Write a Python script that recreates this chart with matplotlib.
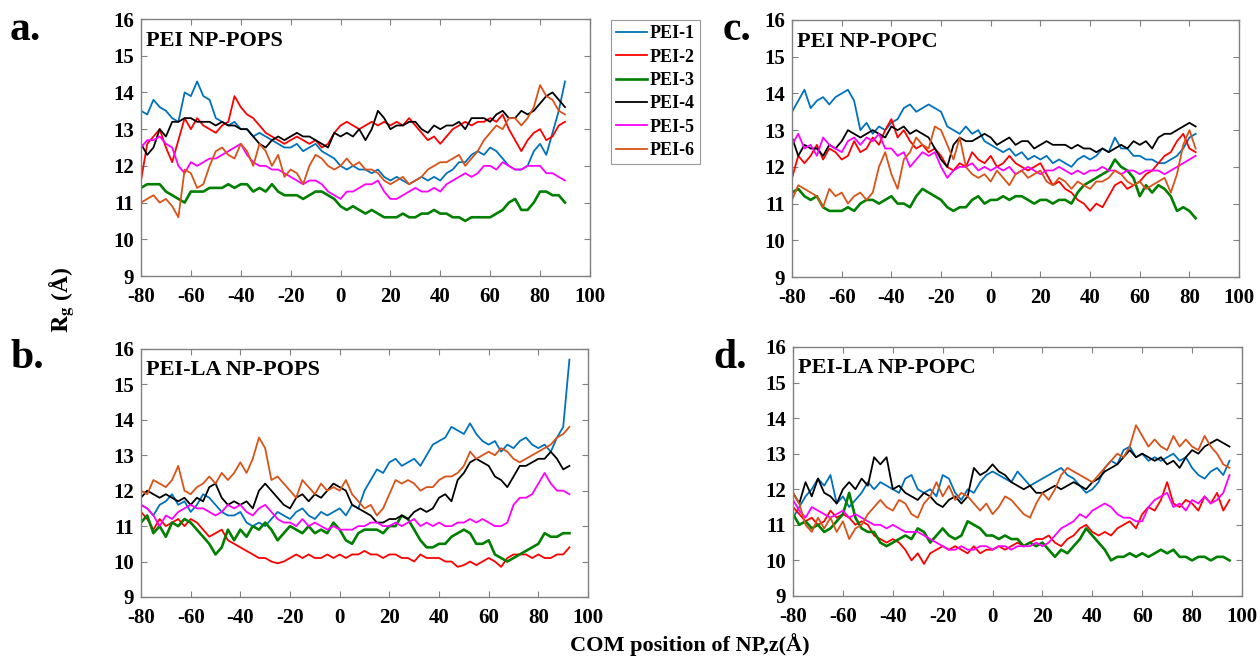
import numpy as np
import matplotlib
matplotlib.use("Agg")
import matplotlib.pyplot as plt

plt.rcParams['font.family'] = ['Liberation Serif', 'DejaVu Serif']
plt.rcParams['font.weight'] = 'bold'
plt.rcParams['mathtext.fontset'] = 'stix'
plt.rcParams['axes.unicode_minus'] = False

# COM position grids (Å) for each panel
z_a = np.arange(-80, 91, 2.5)      # -80 .. 90
z_b = np.arange(-80, 93, 2.5)      # -80 .. 92.5
z_c = np.arange(-80, 84, 2.5)      # -80 .. 82.5
z_d = np.arange(-80, 96, 2.5)      # -80 .. 95

labels = ['PEI-1', 'PEI-2', 'PEI-3', 'PEI-4', 'PEI-5', 'PEI-6']
colors = ['#0072BD', '#FF0000', '#008000', '#000000', '#FF00FF', '#D95319']

# a. PEI NP-POPS
a_pei1 = [13.5, 13.4, 13.8, 13.6, 13.5, 13.3, 13.2, 14.0, 13.9, 14.3,
          13.9, 13.8, 13.3, 13.2, 13.1, 13.2, 13.0, 13.0, 12.8, 12.9,
          12.8, 12.7, 12.6, 12.5, 12.5, 12.6, 12.4, 12.5, 12.6, 12.4,
          12.3, 12.2, 12.0, 11.9, 12.0, 11.9, 11.9, 11.8, 11.9, 11.7,
          11.6, 11.7, 11.6, 11.5, 11.6, 11.7, 11.6, 11.7, 11.6, 11.8,
          11.9, 12.1, 12.1, 12.3, 12.4, 12.3, 12.5, 12.4, 12.2, 12.0,
          11.9, 11.9, 12.0, 12.4, 12.6, 12.3, 12.9, 13.5, 14.3]
a_pei2 = [11.6, 12.6, 12.8, 13.0, 12.5, 12.1, 12.7, 13.3, 13.0, 13.3,
          13.1, 13.0, 12.9, 13.1, 13.2, 13.9, 13.6, 13.4, 13.3, 13.1,
          12.9, 12.8, 12.7, 12.6, 12.7, 12.8, 12.7, 12.6, 12.7, 12.5,
          12.6, 12.9, 13.1, 13.2, 13.1, 13.0, 13.1, 13.2, 13.1, 13.2,
          13.1, 13.2, 13.1, 13.3, 13.1, 12.9, 12.7, 12.8, 12.6, 12.8,
          13.0, 13.1, 13.2, 13.1, 13.2, 13.2, 13.3, 13.2, 13.4, 13.0,
          12.7, 12.4, 12.7, 12.9, 13.0, 12.7, 12.8, 13.1, 13.2]
a_pei3 = [11.4, 11.5, 11.5, 11.5, 11.3, 11.2, 11.1, 11.0, 11.3, 11.3,
          11.3, 11.4, 11.4, 11.4, 11.5, 11.4, 11.5, 11.5, 11.3, 11.4,
          11.3, 11.5, 11.3, 11.2, 11.2, 11.2, 11.1, 11.2, 11.3, 11.3,
          11.2, 11.1, 10.9, 10.8, 10.9, 10.8, 10.7, 10.8, 10.7, 10.6,
          10.6, 10.6, 10.7, 10.6, 10.6, 10.7, 10.7, 10.8, 10.7, 10.7,
          10.6, 10.6, 10.5, 10.6, 10.6, 10.6, 10.6, 10.7, 10.8, 11.0,
          11.1, 10.8, 10.8, 11.0, 11.3, 11.3, 11.2, 11.2, 11.0]
a_pei4 = [12.6, 12.3, 12.5, 13.0, 12.8, 13.2, 13.2, 13.3, 13.3, 13.2,
          13.2, 13.2, 13.1, 13.2, 13.1, 13.1, 13.0, 13.0, 12.8, 12.6,
          12.5, 12.7, 12.8, 12.7, 12.8, 12.9, 12.8, 12.8, 12.7, 12.6,
          12.5, 12.9, 12.8, 12.9, 12.8, 13.0, 12.7, 13.0, 13.5, 13.3,
          13.0, 13.1, 13.1, 13.2, 13.2, 13.0, 12.9, 13.1, 13.0, 13.1,
          13.1, 13.2, 13.0, 13.3, 13.3, 13.3, 13.2, 13.4, 13.5, 13.3,
          13.3, 13.5, 13.4, 13.5, 13.7, 13.9, 14.0, 13.8, 13.6]
a_pei5 = [12.5, 12.7, 12.7, 12.8, 12.6, 12.5, 12.0, 11.8, 12.1, 12.0,
          12.1, 12.2, 12.2, 12.3, 12.4, 12.5, 12.6, 12.3, 12.1, 12.0,
          12.0, 11.9, 11.9, 11.8, 11.7, 11.6, 11.5, 11.6, 11.6, 11.5,
          11.3, 11.2, 11.1, 11.3, 11.3, 11.4, 11.5, 11.5, 11.6, 11.3,
          11.1, 11.1, 11.2, 11.3, 11.4, 11.3, 11.3, 11.4, 11.3, 11.5,
          11.6, 11.7, 11.8, 11.7, 11.8, 12.0, 12.0, 11.9, 12.1, 12.0,
          11.9, 11.9, 12.0, 12.0, 12.0, 11.8, 11.8, 11.7, 11.6]
a_pei6 = [11.0, 11.1, 11.2, 11.0, 11.1, 10.9, 10.6, 11.9, 11.8, 11.4,
          11.5, 12.0, 12.4, 12.5, 12.3, 12.2, 12.6, 12.4, 12.0, 12.6,
          12.4, 12.0, 12.3, 11.7, 11.9, 11.8, 11.5, 12.0, 12.3, 12.2,
          12.0, 11.9, 12.0, 12.2, 12.0, 12.1, 11.9, 11.9, 11.8, 11.6,
          11.5, 11.6, 11.7, 11.5, 11.6, 11.7, 11.9, 12.0, 12.1, 12.1,
          12.2, 12.3, 12.0, 12.2, 12.4, 12.7, 12.9, 13.1, 13.0, 13.3,
          13.3, 13.1, 13.3, 13.6, 14.2, 13.9, 13.8, 13.5, 13.4]

# b. PEI-LA NP-POPS
b_pei1 = [11.6, 11.5, 11.3, 11.6, 11.7, 11.9, 11.6, 11.7, 11.4, 11.6,
          11.9, 11.8, 11.6, 11.4, 11.3, 11.3, 11.4, 11.1, 11.0, 11.1,
          11.0, 11.2, 11.4, 11.3, 11.2, 11.4, 11.5, 11.3, 11.2, 11.4,
          11.3, 11.4, 11.5, 11.3, 11.6, 11.5, 12.0, 12.3, 12.6, 12.5,
          12.8, 12.9, 12.7, 12.8, 12.9, 12.7, 13.0, 13.3, 13.4, 13.5,
          13.8, 13.7, 13.6, 13.9, 13.6, 13.4, 13.3, 13.4, 13.1, 13.3,
          13.2, 13.4, 13.5, 13.3, 13.2, 13.3, 13.1, 13.5, 13.8, 15.7]
b_pei2 = [11.4, 11.2, 10.9, 11.2, 11.0, 11.1, 11.2, 11.0, 11.2, 11.1,
          10.9, 10.7, 10.8, 10.9, 10.6, 10.5, 10.4, 10.3, 10.2, 10.1,
          10.1, 10.0, 9.95, 10.0, 10.1, 10.2, 10.1, 10.2, 10.1, 10.1,
          10.2, 10.1, 10.2, 10.1, 10.2, 10.2, 10.3, 10.2, 10.2, 10.1,
          10.2, 10.2, 10.1, 10.1, 10.0, 10.2, 10.1, 10.1, 10.1, 10.0,
          10.0, 9.85, 9.9, 10.0, 9.9, 10.0, 10.1, 10.0, 9.85, 10.1,
          10.2, 10.2, 10.2, 10.1, 10.2, 10.1, 10.1, 10.2, 10.2, 10.4]
b_pei3 = [11.1, 11.3, 10.8, 11.0, 10.7, 11.1, 11.0, 11.2, 11.1, 10.9,
          10.7, 10.5, 10.2, 10.4, 10.9, 10.6, 10.9, 10.7, 11.0, 10.9,
          11.1, 10.9, 10.6, 10.8, 11.0, 10.9, 10.8, 11.0, 10.8, 10.9,
          10.8, 11.1, 10.9, 10.6, 10.5, 10.8, 10.9, 10.9, 10.9, 10.8,
          11.0, 11.0, 11.3, 11.2, 10.9, 10.6, 10.4, 10.4, 10.5, 10.5,
          10.7, 10.8, 10.9, 10.8, 10.5, 10.5, 10.6, 10.2, 10.1, 10.0,
          10.1, 10.2, 10.3, 10.4, 10.5, 10.8, 10.7, 10.7, 10.8, 10.8]
b_pei4 = [11.8, 12.0, 11.9, 11.8, 11.9, 11.8, 11.7, 11.8, 11.6, 11.8,
          11.7, 12.1, 12.2, 11.8, 11.6, 11.7, 11.6, 11.7, 11.5, 12.0,
          12.2, 12.0, 11.8, 11.6, 11.5, 11.8, 11.9, 11.7, 11.9, 11.8,
          12.0, 12.2, 12.1, 12.0, 11.6, 11.5, 11.4, 11.3, 11.1, 11.1,
          11.2, 11.2, 11.3, 11.2, 11.4, 11.5, 11.4, 11.5, 11.8, 11.9,
          11.7, 12.3, 12.5, 12.8, 12.9, 12.8, 12.7, 12.4, 12.3, 12.1,
          12.4, 12.7, 12.7, 12.8, 12.9, 12.9, 13.1, 12.9, 12.6, 12.7]
b_pei5 = [11.6, 11.5, 11.3, 11.0, 11.3, 11.2, 11.4, 11.5, 11.6, 11.5,
          11.5, 11.4, 11.3, 11.4, 11.6, 11.5, 11.6, 11.4, 11.3, 11.5,
          11.6, 11.4, 11.2, 11.1, 11.1, 11.0, 11.2, 11.0, 11.1, 11.0,
          10.9, 11.0, 10.9, 10.9, 10.9, 11.0, 11.0, 11.1, 11.1, 11.0,
          11.0, 11.1, 11.0, 11.1, 11.2, 11.0, 11.1, 11.0, 11.1, 11.0,
          11.0, 11.1, 11.1, 11.2, 11.1, 11.2, 11.1, 11.0, 11.0, 11.1,
          11.6, 11.8, 11.8, 11.9, 12.2, 12.5, 12.2, 12.0, 12.0, 11.9]
b_pei6 = [12.0, 11.9, 12.3, 12.2, 12.1, 12.3, 12.7, 12.0, 11.9, 12.1,
          12.2, 12.4, 12.2, 12.5, 12.3, 12.5, 12.8, 12.5, 12.9, 13.5,
          13.2, 12.3, 12.4, 12.2, 12.0, 11.8, 12.3, 12.1, 11.9, 12.2,
          12.0, 12.1, 12.0, 12.3, 11.9, 11.7, 11.5, 11.6, 11.3, 11.5,
          11.9, 12.3, 12.2, 12.3, 12.2, 12.0, 12.1, 12.1, 12.3, 12.4,
          12.4, 12.5, 12.7, 13.1, 12.9, 13.0, 13.1, 13.0, 13.2, 13.1,
          12.9, 12.8, 12.9, 13.0, 13.1, 13.2, 13.3, 13.5, 13.6, 13.8]

# c. PEI NP-POPC
c_pei1 = [13.5, 13.8, 14.1, 13.6, 13.8, 13.9, 13.7, 13.9, 14.0, 14.1,
          13.8, 13.0, 13.2, 12.9, 13.1, 13.0, 13.2, 13.3, 13.6, 13.7,
          13.5, 13.6, 13.7, 13.6, 13.5, 13.1, 13.0, 12.9, 13.1, 12.9,
          13.0, 12.7, 12.6, 12.5, 12.4, 12.5, 12.3, 12.4, 12.2, 12.3,
          12.2, 12.3, 12.1, 12.2, 12.1, 12.0, 12.2, 12.3, 12.2, 12.3,
          12.5, 12.4, 12.8, 12.5, 12.5, 12.3, 12.3, 12.2, 12.2, 12.1,
          12.1, 12.2, 12.3, 12.5, 12.8, 12.9]
c_pei2 = [11.7, 12.3, 12.1, 12.3, 12.6, 12.2, 12.5, 12.4, 12.2, 12.3,
          12.7, 12.4, 12.5, 12.8, 12.6, 13.0, 13.3, 12.8, 13.0, 12.7,
          12.5, 12.6, 12.4, 12.5, 12.3, 12.0, 11.9, 12.1, 12.0, 12.4,
          12.2, 12.1, 12.3, 12.0, 12.1, 12.3, 12.1, 12.0, 11.9, 12.0,
          12.1, 11.8, 11.5, 11.6, 11.4, 11.3, 11.1, 11.0, 10.8, 11.0,
          10.9, 11.2, 11.5, 11.6, 11.4, 11.5, 11.6, 11.8, 11.9, 12.1,
          12.3, 12.4, 12.7, 12.9, 12.5, 12.4]
c_pei3 = [11.3, 11.4, 11.2, 11.1, 11.2, 10.9, 10.8, 10.8, 10.8, 10.9,
          10.8, 11.0, 11.1, 11.1, 11.0, 11.1, 11.2, 11.0, 11.0, 10.9,
          11.2, 11.4, 11.3, 11.2, 11.1, 10.9, 10.8, 10.9, 10.9, 11.1,
          11.2, 11.0, 11.1, 11.1, 11.2, 11.1, 11.2, 11.2, 11.1, 11.0,
          11.1, 11.1, 11.0, 11.1, 11.1, 11.0, 11.3, 11.5, 11.6, 11.7,
          11.8, 11.9, 12.2, 12.0, 11.9, 11.7, 11.2, 11.5, 11.3, 11.5,
          11.4, 11.2, 10.8, 10.9, 10.8, 10.6]
c_pei4 = [12.8, 12.3, 12.6, 12.5, 12.5, 12.3, 12.6, 12.5, 12.7, 13.0,
          12.9, 12.8, 12.9, 13.0, 12.9, 12.8, 13.1, 13.0, 13.1, 12.9,
          13.0, 12.9, 12.8, 12.5, 12.2, 12.0, 12.6, 12.8, 12.7, 12.7,
          12.8, 12.9, 12.8, 12.6, 12.7, 12.8, 12.6, 12.7, 12.7, 12.5,
          12.6, 12.7, 12.6, 12.6, 12.6, 12.5, 12.6, 12.5, 12.5, 12.4,
          12.5, 12.4, 12.5, 12.6, 12.5, 12.7, 12.6, 12.7, 12.5, 12.8,
          12.9, 12.9, 13.0, 13.1, 13.2, 13.1]
c_pei5 = [12.6, 12.9, 12.5, 12.6, 12.3, 12.8, 12.6, 12.5, 12.4, 12.7,
          12.8, 12.6, 12.8, 12.7, 12.9, 12.5, 12.5, 12.3, 12.4, 12.0,
          12.2, 12.4, 12.3, 12.4, 12.0, 11.7, 11.9, 12.0, 12.0, 12.1,
          11.9, 12.0, 11.9, 12.0, 11.9, 12.0, 11.8, 11.9, 12.0, 11.9,
          11.8, 11.9, 11.9, 12.0, 11.9, 11.8, 11.9, 11.8, 11.9, 11.9,
          12.0, 11.9, 11.9, 11.8, 11.9, 11.9, 11.8, 11.9, 11.9, 11.9,
          11.8, 11.9, 12.0, 12.1, 12.2, 12.3]
c_pei6 = [11.1, 11.5, 11.4, 11.3, 11.2, 10.9, 11.4, 11.2, 11.3, 11.0,
          11.2, 11.3, 11.1, 11.3, 12.0, 12.4, 11.8, 11.4, 12.2, 12.4,
          12.8, 12.6, 12.5, 13.1, 13.0, 12.6, 12.2, 12.8, 12.0, 11.8,
          11.7, 11.8, 11.6, 11.9, 11.7, 11.5, 11.8, 11.9, 11.7, 11.8,
          11.9, 11.6, 11.5, 11.7, 11.6, 11.4, 11.6, 11.5, 11.4, 11.6,
          11.6, 11.7, 11.9, 11.8, 11.6, 11.5, 11.6, 11.4, 11.5, 11.6,
          11.7, 11.3, 11.8, 12.6, 13.0, 12.5]

# d. PEI-LA NP-POPC
d_pei1 = [11.2, 11.5, 11.8, 12.0, 12.3, 12.1, 12.4, 11.6, 11.8, 11.5,
          11.7, 11.9, 12.2, 12.0, 12.2, 12.1, 12.0, 11.9, 12.3, 12.4,
          12.0, 11.9, 12.0, 11.8, 12.4, 12.3, 11.9, 11.7, 12.0, 11.9,
          12.2, 12.4, 12.5, 12.4, 12.3, 12.2, 12.5, 12.3, 12.1, 12.2,
          12.3, 12.4, 12.5, 12.6, 12.4, 12.3, 12.1, 11.9, 12.0, 12.2,
          12.6, 12.8, 12.7, 13.1, 13.2, 12.9, 13.0, 12.8, 12.9, 12.8,
          12.9, 13.0, 12.8, 12.9, 12.6, 12.4, 12.3, 12.5, 12.6, 12.4,
          12.8]
d_pei2 = [11.5, 11.3, 11.1, 11.2, 11.0, 11.1, 11.4, 11.2, 11.3, 11.2,
          11.0, 11.1, 11.0, 10.7, 10.6, 10.5, 10.6, 10.5, 10.3, 10.0,
          10.2, 9.9, 10.2, 10.3, 10.4, 10.3, 10.4, 10.3, 10.2, 10.4,
          10.2, 10.3, 10.3, 10.4, 10.3, 10.4, 10.5, 10.4, 10.5, 10.6,
          10.6, 10.7, 10.5, 10.4, 10.6, 10.7, 10.9, 11.0, 10.8, 10.7,
          10.8, 10.7, 10.9, 11.0, 11.1, 10.9, 11.3, 11.5, 11.4, 11.7,
          12.2, 11.6, 11.5, 11.7, 11.6, 11.4, 11.8, 11.6, 11.9, 11.4,
          11.7]
d_pei3 = [11.3, 11.0, 11.1, 10.9, 11.0, 10.8, 10.9, 11.1, 11.3, 11.9,
          11.2, 10.9, 10.8, 10.8, 10.5, 10.4, 10.5, 10.6, 10.7, 10.6,
          10.9, 10.8, 10.5, 10.7, 10.9, 10.7, 10.6, 10.7, 11.1, 11.0,
          10.9, 10.7, 10.7, 10.6, 10.7, 10.6, 10.6, 10.4, 10.5, 10.4,
          10.5, 10.3, 10.1, 10.3, 10.2, 10.4, 10.6, 10.9, 10.7, 10.5,
          10.3, 10.0, 10.1, 10.1, 10.2, 10.1, 10.2, 10.1, 10.2, 10.3,
          10.2, 10.3, 10.1, 10.1, 10.0, 10.1, 10.1, 10.0, 10.1, 10.1,
          10.0]
d_pei4 = [11.9, 11.6, 12.2, 11.8, 12.3, 11.9, 11.8, 11.6, 12.0, 12.2,
          12.0, 12.3, 12.1, 12.9, 12.7, 12.9, 12.0, 12.1, 11.9, 11.8,
          11.7, 11.9, 11.8, 11.6, 11.5, 11.7, 11.8, 11.6, 11.8, 12.6,
          12.4, 12.5, 12.7, 12.5, 12.4, 12.2, 12.1, 12.0, 12.1, 11.9,
          11.9, 12.0, 12.1, 12.0, 12.1, 12.2, 12.1, 12.0, 12.2, 12.3,
          12.5, 12.6, 12.7, 12.9, 13.1, 12.9, 13.0, 12.9, 12.8, 12.9,
          12.7, 12.8, 12.6, 12.9, 13.1, 13.0, 13.2, 13.3, 13.4, 13.3,
          13.2]
d_pei5 = [11.7, 11.4, 11.2, 11.5, 11.4, 11.3, 11.2, 11.3, 11.4, 11.2,
          11.3, 11.2, 11.1, 11.0, 11.0, 10.9, 11.0, 10.9, 10.8, 10.8,
          10.8, 10.7, 10.6, 10.5, 10.4, 10.3, 10.3, 10.4, 10.3, 10.3,
          10.4, 10.4, 10.3, 10.4, 10.4, 10.3, 10.4, 10.4, 10.4, 10.5,
          10.4, 10.5, 10.7, 10.9, 11.0, 11.1, 11.3, 11.2, 11.4, 11.5,
          11.6, 11.5, 11.3, 11.2, 11.2, 11.1, 11.1, 11.5, 11.7, 11.8,
          11.9, 11.5, 11.6, 11.4, 11.7, 11.6, 11.8, 11.6, 11.7, 11.9,
          12.4]
d_pei6 = [11.9, 11.6, 11.0, 10.8, 11.2, 10.9, 11.2, 10.8, 11.1, 10.6,
          10.9, 11.0, 11.3, 11.5, 11.7, 11.5, 11.4, 11.7, 11.6, 11.3,
          11.2, 11.6, 11.8, 12.2, 11.8, 12.1, 11.7, 11.9, 11.8, 11.6,
          11.4, 11.6, 11.3, 11.5, 11.8, 11.7, 11.5, 11.3, 11.2, 11.6,
          11.9, 11.7, 12.0, 12.4, 12.6, 12.5, 12.4, 12.3, 12.2, 12.4,
          12.6, 12.8, 13.0, 12.9, 13.2, 13.8, 13.5, 13.2, 13.4, 13.2,
          13.1, 13.5, 13.2, 13.4, 13.2, 13.1, 13.5, 13.2, 13.0, 12.7,
          12.6]

panels = [
    ('a.', 'PEI NP-POPS', z_a, [a_pei1, a_pei2, a_pei3, a_pei4, a_pei5, a_pei6],
     [0.1119, 0.5818, 0.3563, 0.3894], (25, 30)),
    ('c.', 'PEI NP-POPC', z_c, [c_pei1, c_pei2, c_pei3, c_pei4, c_pei5, c_pei6],
     [0.6286, 0.5803, 0.3548, 0.3894], (737, 30)),
    ('b.', 'PEI-LA NP-POPS', z_b, [b_pei1, b_pei2, b_pei3, b_pei4, b_pei5, b_pei6],
     [0.1119, 0.0955, 0.3548, 0.3758], (27, 358)),
    ('d.', 'PEI-LA NP-POPC', z_d, [d_pei1, d_pei2, d_pei3, d_pei4, d_pei5, d_pei6],
     [0.6294, 0.0970, 0.3563, 0.3773], (730, 358)),
]

fig = plt.figure(figsize=(12.6, 6.6), dpi=100)

handles = None
for letter, title, z, series, rect, lpos in panels:
    ax = fig.add_axes(rect)
    lines = []
    for vals, lab, col in zip(series, labels, colors):
        lw = 1.9 if lab == 'PEI-3' else 1.3
        ln, = ax.plot(z, vals, color=col, lw=lw, label=lab)
        lines.append(ln)
    handles = lines
    ax.set_xlim(-80, 100)
    ax.set_ylim(9, 16)
    ax.set_xticks(range(-80, 101, 20))
    ax.set_yticks(range(9, 17))
    ax.tick_params(direction='in', top=True, right=True, length=4,
                   color='#808080', labelsize=15)
    ax.tick_params(axis='x', pad=8)
    ax.tick_params(axis='y', pad=5)
    for lab in ax.get_xticklabels() + ax.get_yticklabels():
        lab.set_fontweight('bold')
    for sp in ax.spines.values():
        sp.set_color('#808080')
        sp.set_linewidth(1.0)
    ax.text(0.012, 0.915, title, transform=ax.transAxes, fontsize=16,
            fontweight='bold', ha='left', va='center')
    fig.text(lpos[0] / 1260, 1 - lpos[1] / 660, letter, fontsize=30,
             fontweight='bold', ha='center', va='center')

leg = fig.legend(handles, labels, loc='upper left',
                 bbox_to_anchor=(611 / 1260, 1 - 20 / 660),
                 prop={'size': 13, 'weight': 'bold'},
                 handlelength=1.7, handletextpad=0.15, labelspacing=0.35,
                 borderpad=0.3, borderaxespad=0, fancybox=False)
leg.get_frame().set_edgecolor('#808080')
leg.get_frame().set_linewidth(0.8)

fig.text(62 / 1260, 1 - 300 / 660, r'$\mathbf{R_g}$ (Å)', rotation=90,
         fontsize=17, fontweight='bold', ha='center', va='center')
fig.text(690 / 1260, 1 - 645 / 660, 'COM position of NP,z(Å)',
         fontsize=16, fontweight='bold', ha='center', va='center')

fig.savefig('out.png', dpi=100, facecolor='white')
